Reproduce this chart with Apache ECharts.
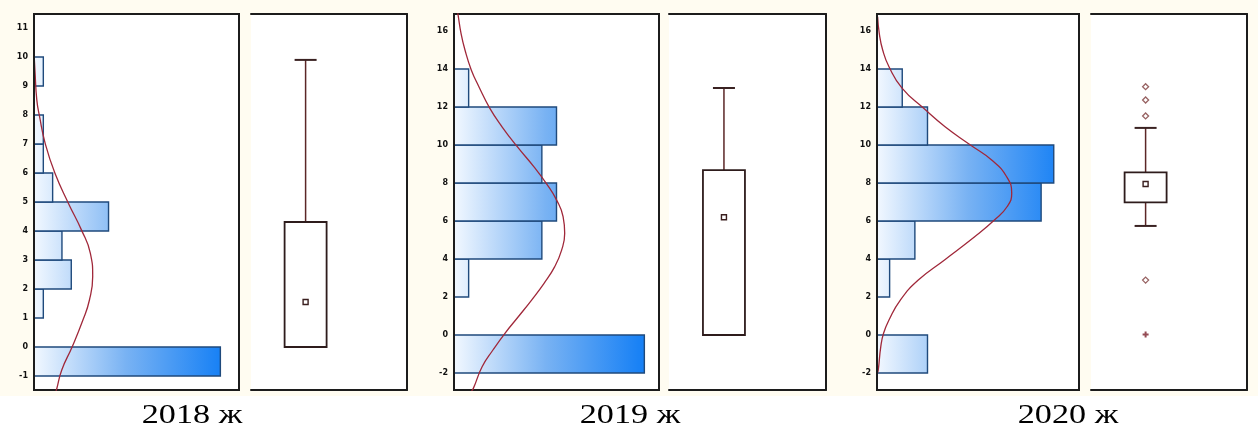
<!DOCTYPE html>
<html>
<head>
<meta charset="utf-8">
<script src="https://cdn.jsdelivr.net/npm/echarts@6/dist/echarts.min.js"></script>
<style>
  html, body { margin: 0; padding: 0; }
  body { background: linear-gradient(to bottom, #fffcf1 0px, #fffcf1 396px, #ffffff 396px); }
  #chart { width: 1258px; height: 435px; }
</style>
</head>
<body>
<div id="chart"></div>
<script>
// ---- tick labels ----
const ticks2018 = [-1, 0, 1, 2, 3, 4, 5, 6, 7, 8, 9, 10, 11];
const ticks2019 = [-2, 0, 2, 4, 6, 8, 10, 12, 14, 16];
const ticks2020 = [-2, 0, 2, 4, 6, 8, 10, 12, 14, 16];

// ---- histogram bins (edges) and frequencies ----
const edges2018 = [-1, 0, 1, 2, 3, 4, 5, 6, 7, 8, 9, 10];
const counts2018 = [20, 0, 1, 4, 3, 8, 2, 1, 1, 0, 1];
const edges2019 = [-2, 0, 2, 4, 6, 8, 10, 12, 14];
const counts2019 = [13, 0, 1, 6, 7, 6, 7, 1];
const edges2020 = [-2, 0, 2, 4, 6, 8, 10, 12, 14];
const counts2020 = [4, 0, 1, 3, 13, 14, 4, 2];

// ---- fitted normal curves: [expected frequency, value] ----
const curve2018 = [[2.3, -1.6], [2.45, -1.43], [2.98, -0.79], [4.1, 0.01], [5.25, 0.93], [5.95, 1.62], [6.3, 2.43],
  [6.05, 3.23], [5.1, 4.03], [3.7, 4.95], [2.25, 5.99], [1.2, 7.02], [0.6, 7.94], [0.3, 8.52], [0.1, 9.55], [0.04, 9.9]];
const curve2019 = [[1.15, -3.0], [1.32, -2.81], [1.92, -1.67], [2.66, -0.79], [3.48, 0.09], [4.39, 0.96], [5.3, 1.84],
  [6.15, 2.72], [6.88, 3.6], [7.35, 4.47], [7.56, 5.35], [7.45, 6.23], [7.01, 7.1], [6.3, 7.98], [5.45, 8.86],
  [4.32, 9.91], [3.28, 10.96], [2.45, 11.93], [1.7, 13.07], [1.18, 13.95], [0.75, 15.0], [0.48, 15.88], [0.28, 16.84], [0.25, 17.0]];
const curve2020 = [[0.03, -2.0], [0.1, -1.84], [0.3, -0.61], [0.52, 0.09], [0.95, 0.79], [1.85, 1.84], [3.27, 2.89],
  [5.35, 3.95], [7.76, 5.18], [9.3, 6.05], [10.3, 6.75], [10.67, 7.46], [10.27, 8.33], [9.08, 9.21], [7.4, 10.0],
  [5.39, 10.96], [3.7, 11.93], [2.0, 12.98], [0.95, 14.12], [0.45, 15.0], [0.18, 15.88], [0.05, 16.75]];

// ---- box-and-whisker statistics: [low, q1, median, q3, high] ----
const box2018 = [0, 0, 1.55, 4.31, 9.9];
const box2019 = [0, 0, 6.2, 8.68, 13.0];
const box2020 = [5.74, 6.98, 7.95, 8.56, 10.9];
const outliers2018 = [];
const outliers2019 = [];
const outliers2020 = [13.07, 12.37, 11.53, 2.89];
const extremes2018 = [];
const extremes2019 = [];
const extremes2020 = [0.03];

const years = ['2018 ж', '2019 ж', '2020 ж'];

const panels = [
  { year: years[0], edges: edges2018, counts: counts2018, curve: curve2018, box: box2018, outliers: outliers2018, extremes: extremes2018,
    ticks: ticks2018, yMin: -1.483, yMax: 11.483, countMax: 22, histLeft: 34, histWidth: 205, boxLeft: 251, boxWidth: 156, labelX: 192 },
  { year: years[1], edges: edges2019, counts: counts2019, curve: curve2019, box: box2019, outliers: outliers2019, extremes: extremes2019,
    ticks: ticks2019, yMin: -2.895, yMax: 16.895, countMax: 14, histLeft: 454, histWidth: 205, boxLeft: 669, boxWidth: 157, labelX: 630 },
  { year: years[2], edges: edges2020, counts: counts2020, curve: curve2020, box: box2020, outliers: outliers2020, extremes: extremes2020,
    ticks: ticks2020, yMin: -2.895, yMax: 16.895, countMax: 16, histLeft: 877, histWidth: 202, boxLeft: 1091, boxWidth: 156, labelX: 1068 }
];

const TOP = 14, HEIGHT = 376;
const BOX_X = 0.35;          // horizontal position of the box inside its panel
const FRAME = '#1c1c1c';

const grid = [], xAxis = [], yAxis = [], series = [], graphic = [];

function histRender(params, api) {
  const c = api.value(2);
  if (!c) return null;
  const a = api.coord([0, api.value(1)]);
  const b = api.coord([c, api.value(0)]);
  const cs = params.coordSys;
  return {
    type: 'rect',
    shape: { x: a[0], y: a[1], width: b[0] - a[0], height: b[1] - a[1] },
    style: {
      fill: new echarts.graphic.LinearGradient(cs.x, 0, cs.x + cs.width, 0, [
        { offset: 0, color: '#f2f8ff' },
        { offset: 0.45, color: '#78b2f3' },
        { offset: 0.9, color: '#1a82f5' },
        { offset: 1, color: '#117cf5' }
      ], true),
      stroke: '#1f4a7c',
      lineWidth: 1.4
    }
  };
}

function boxRender(params, api) {
  const x = api.value(0);
  const low = api.coord([x, api.value(1)]);
  const q1 = api.coord([x, api.value(2)]);
  const med = api.coord([x, api.value(3)]);
  const q3 = api.coord([x, api.value(4)]);
  const high = api.coord([x, api.value(5)]);
  const hw = 21, cw = 11, ms = 2.5;
  const whisker = { stroke: '#5b2626', lineWidth: 1.5 };
  const cap = { stroke: '#3a2222', lineWidth: 2 };
  const kids = [];
  if (high[1] < q3[1] - 0.5) {
    kids.push({ type: 'line', shape: { x1: high[0], y1: high[1], x2: q3[0], y2: q3[1] }, style: whisker });
    kids.push({ type: 'line', shape: { x1: high[0] - cw, y1: high[1], x2: high[0] + cw, y2: high[1] }, style: cap });
  }
  if (low[1] > q1[1] + 0.5) {
    kids.push({ type: 'line', shape: { x1: low[0], y1: low[1], x2: q1[0], y2: q1[1] }, style: whisker });
    kids.push({ type: 'line', shape: { x1: low[0] - cw, y1: low[1], x2: low[0] + cw, y2: low[1] }, style: cap });
  }
  kids.push({ type: 'rect', shape: { x: q3[0] - hw, y: q3[1], width: hw * 2, height: q1[1] - q3[1] },
    style: { fill: '#ffffff', stroke: '#2e1c1c', lineWidth: 1.8 } });
  kids.push({ type: 'rect', shape: { x: med[0] - ms, y: med[1] - ms, width: ms * 2, height: ms * 2 },
    style: { fill: '#ffffff', stroke: '#3a1f1f', lineWidth: 1.4 } });
  return { type: 'group', children: kids };
}

panels.forEach((p) => {
  const gH = grid.length;
  grid.push({ left: p.histLeft, top: TOP, width: p.histWidth, height: HEIGHT, show: true,
    backgroundColor: '#ffffff', borderColor: FRAME, borderWidth: 2 });
  const gB = grid.length;
  grid.push({ left: p.boxLeft, top: TOP, width: p.boxWidth, height: HEIGHT, show: true,
    backgroundColor: '#ffffff', borderWidth: 0 });

  // histogram axes
  const xH = xAxis.length;
  xAxis.push({ type: 'value', gridIndex: gH, min: 0, max: p.countMax, show: false });
  const yH = yAxis.length;
  yAxis.push({ type: 'value', gridIndex: gH, min: p.yMin, max: p.yMax, z: 5,
    axisLine: { show: true, onZero: false, lineStyle: { color: FRAME, width: 2 } },
    axisTick: { show: false }, splitLine: { show: false },
    axisLabel: { customValues: p.ticks, margin: 6, fontSize: 8, fontWeight: 'bold',
      fontFamily: 'DejaVu Sans', color: '#111' } });

  // box panel axes: bottom, top and right frame lines only
  const lineOnly = { show: true, onZero: false, lineStyle: { color: FRAME, width: 2 } };
  const xB = xAxis.length;
  xAxis.push({ type: 'value', gridIndex: gB, min: 0, max: 1, position: 'bottom',
    axisLine: lineOnly, axisTick: { show: false }, axisLabel: { show: false }, splitLine: { show: false } });
  xAxis.push({ type: 'value', gridIndex: gB, min: 0, max: 1, position: 'top',
    axisLine: lineOnly, axisTick: { show: false }, axisLabel: { show: false }, splitLine: { show: false } });
  const yB = yAxis.length;
  yAxis.push({ type: 'value', gridIndex: gB, min: p.yMin, max: p.yMax, position: 'right',
    axisLine: lineOnly, axisTick: { show: false }, axisLabel: { show: false }, splitLine: { show: false } });

  series.push({
    type: 'custom', xAxisIndex: xH, yAxisIndex: yH, z: 2,
    renderItem: histRender,
    encode: { x: 2, y: [0, 1] },
    data: p.counts.map((c, k) => [p.edges[k], p.edges[k + 1], c])
  });
  series.push({
    type: 'line', xAxisIndex: xH, yAxisIndex: yH, z: 3,
    data: p.curve, smooth: 0.5, symbol: 'none', clip: true,
    lineStyle: { color: '#a0283a', width: 1.3 }
  });
  series.push({
    type: 'custom', xAxisIndex: xB, yAxisIndex: yB, z: 3,
    renderItem: boxRender,
    encode: { x: 0, y: [1, 2, 3, 4, 5] },
    data: [[BOX_X].concat(p.box)]
  });
  if (p.outliers.length) {
    series.push({
      type: 'scatter', xAxisIndex: xB, yAxisIndex: yB, z: 4,
      symbol: 'diamond', symbolSize: 6,
      itemStyle: { color: '#ffffff', borderColor: '#7d3b3b', borderWidth: 1.3 },
      data: p.outliers.map(v => [BOX_X, v])
    });
  }
  if (p.extremes.length) {
    series.push({
      type: 'scatter', xAxisIndex: xB, yAxisIndex: yB, z: 4,
      symbol: 'path://M2,0H4V2H6V4H4V6H2V4H0V2H2Z', symbolSize: 6,
      itemStyle: { color: '#7a1f2a' },
      data: p.extremes.map(v => [BOX_X, v])
    });
  }

  graphic.push({
    type: 'text', x: p.labelX, y: 416, scaleX: 1.22, originX: 0, originY: 0,
    style: { text: p.year, font: '28px "Liberation Serif", "Times New Roman", serif',
      fill: '#000', align: 'center', verticalAlign: 'middle' }
  });
});

const chart = echarts.init(document.getElementById('chart'), null, { renderer: 'canvas' });
chart.setOption({ animation: false, grid, xAxis, yAxis, series, graphic });
</script>
</body>
</html>
